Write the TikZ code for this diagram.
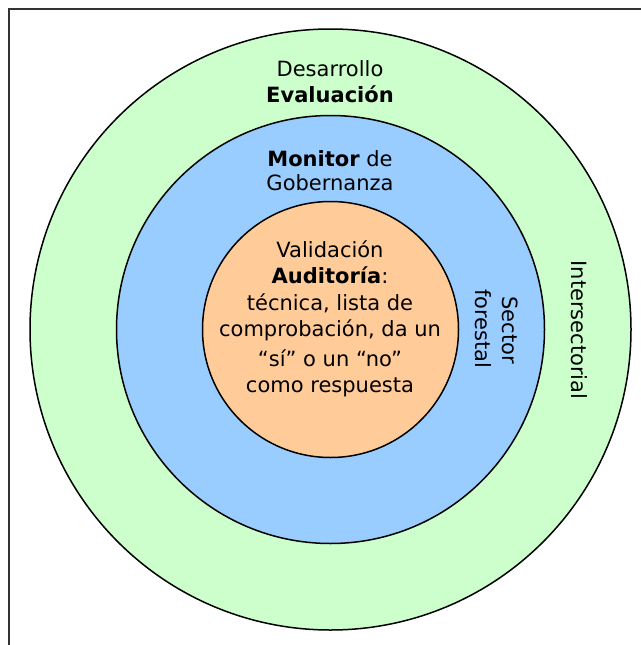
\documentclass[tikz,border=0pt]{standalone}
\usepackage{fontspec}
\setmainfont{DejaVu Sans}
\begin{document}
\begin{tikzpicture}[x=1pt,y=-1pt,
  ring/.style={draw=black,line width=1.5pt},
  lbl/.style={inner sep=0pt,anchor=base,font=\fontsize{21}{25}\selectfont},
  vlbl/.style={lbl,rotate=-90}]
\useasboundingbox (0,0) rectangle (640,645);
\coordinate (fa) at (8.5,660);
\coordinate (fb) at (8.5,8.5);
\coordinate (fc) at (660,8.5);
\draw[line width=2pt,draw=black!80] (fa) -- (fb) -- (fc);
\coordinate (c) at (330.5,329.5);
\fill[ring,fill={rgb,255:red,204;green,255;blue,204}] (c) circle (300.5);
\fill[ring,fill={rgb,255:red,153;green,204;blue,255}] (c) circle (214);
\fill[ring,fill={rgb,255:red,255;green,204;blue,153}] (c) circle (128);
\node[lbl] (t1) at (330,76) {Desarrollo};
\node[lbl] (t2) at (330,102) {\bfseries Evaluación};
\node[lbl] (t3) at (330,166) {\textbf{Monitor} de};
\node[lbl] (t4) at (330,190) {Gobernanza};
\node[lbl] (t5) at (330,257) {Validación};
\node[lbl] (t6) at (330,283) {\textbf{Auditoría}:};
\node[lbl] (t7) at (330,310) {técnica, lista de};
\node[lbl] (t8) at (330,336) {comprobación, da un};
\node[lbl] (t9) at (330,366) {“sí” o un “no”};
\node[lbl] (t10) at (330,392) {como respuesta};
\node[vlbl] (s1) at (502,330) {Sector};
\node[vlbl] (s2) at (475,329) {forestal};
\node[vlbl] (s3) at (571,330) {Intersectorial};
\end{tikzpicture}
\end{document}
